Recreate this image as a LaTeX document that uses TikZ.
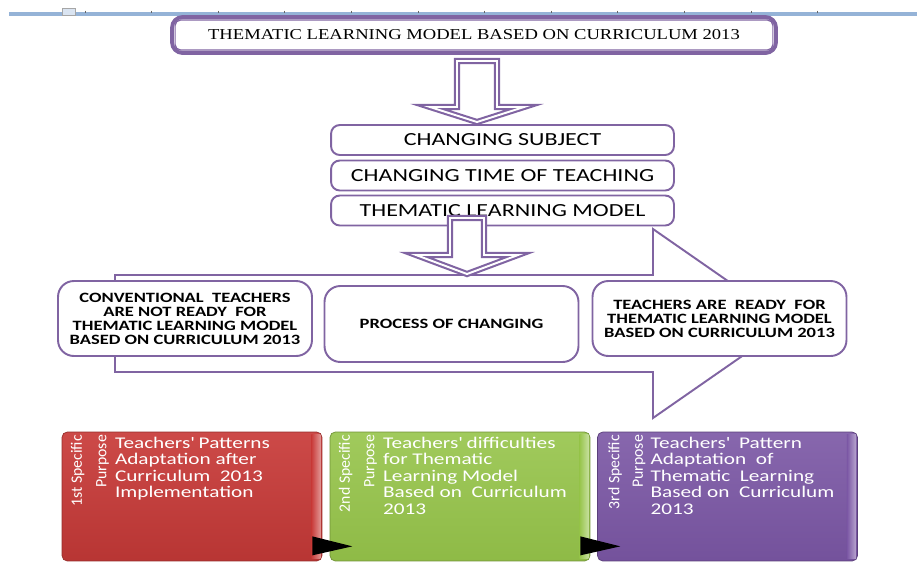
\documentclass[tikz,border=0pt]{standalone}
\usepackage{fontspec}
\setmainfont{Carlito}[FakeStretch=1.3]
\newfontfamily\sidefont{Carlito}
\newfontfamily\titlefont{Liberation Serif}[FakeStretch=1.23]
\usetikzlibrary{positioning,calc}
\definecolor{framepurple}{RGB}{128,100,162}
\definecolor{rulerblue}{RGB}{149,179,215}
\definecolor{specred}{RGB}{200,58,56}
\definecolor{specgreen}{RGB}{150,196,74}
\definecolor{specpurple}{RGB}{122,86,164}

\begin{document}
\begin{tikzpicture}[
    x=0.02cm, y=-0.02cm,
    titlebox/.style={rectangle, draw=framepurple, line width=2.2pt, rounded corners=6pt,
                 minimum width=12.08cm, minimum height=0.72cm, inner sep=0pt,
                 font=\titlefont\fontsize{8.6}{10}\selectfont},
    changebox/.style={rectangle, draw=framepurple, line width=1.1pt, fill=white, rounded corners=5pt,
                 minimum width=6.86cm, minimum height=0.6cm, inner sep=0pt,
                 font=\fontsize{10.5}{12}\selectfont},
    statebox/.style={rectangle, draw=framepurple, line width=1.1pt, fill=white, rounded corners=9pt,
                 minimum width=5.08cm, minimum height=1.5cm, inner sep=0pt, align=center,
                 font=\bfseries\fontsize{8.1}{8}\selectfont},
    purposebox/.style={rectangle, rounded corners=3pt, minimum width=5.2cm, minimum height=2.58cm, inner sep=0pt},
    purposetext/.style={anchor=north west, align=left, text=white, inner sep=0pt,
                 font=\fontsize{9.3}{9.4}\selectfont},
    sidetext/.style={anchor=east, rotate=90, text=white, inner sep=0pt,
                 font=\sidefont\fontsize{9}{10}\selectfont},
    blockarrow/.style={draw=framepurple, line width=1.2pt, double=white, double distance=1.1pt, fill=white},
    bigarrow/.style={draw=framepurple, line width=1.1pt, fill=white},
    pointer/.style={fill=black}
  ]
    \useasboundingbox (0,0) rectangle (917,562);

    % ruler strip at the top
    \fill[rulerblue] (9,12) rectangle (917,15.5);
    \foreach \k in {0,...,11}
      \draw[gray!80!black, line width=0.4pt] ({85+66.6*\k},10.5) -- ++(0,2.5);
    \draw[gray!70, fill=rulerblue!35] (62,8) rectangle (75,15.5);

    \node[titlebox] (title) at (474,35) {THEMATIC LEARNING MODEL BASED ON CURRICULUM 2013};
    \draw[framepurple, line width=0.7pt, rounded corners=3pt]
      ([shift={(5,5)}]title.north west) rectangle ([shift={(-5,-5)}]title.south east);

    \node[changebox] (subject) at (502.5,140)   {CHANGING SUBJECT};
    \node[changebox] (time) at (502.5,175.5)    {CHANGING TIME OF TEACHING};
    \node[changebox] (model) at (502.5,210.5)   {THEMATIC LEARNING MODEL};

    % title -> subject
    \coordinate (tail1) at (477,61);
    \coordinate (tip1) at (477,122);
    \draw[blockarrow] (tail1) ++(-20,0) -- ++(40,0) -- ++(0,46) -- ++(27,0) -- (tip1)
      -- ++(-47,-15) -- ++(27,0) -- cycle;

    % big arrow behind the three states
    \draw[bigarrow] (115,275) -- (653,275) -- (653,229) -- (789,323.5) -- (653,418) -- (653,372) -- (115,372) -- cycle;

    \node[statebox] (notready) at (185,318.5) {CONVENTIONAL\ \ TEACHERS\\ARE NOT READY\ \ FOR\\THEMATIC LEARNING MODEL\\BASED ON CURRICULUM 2013};
    \node[statebox, minimum height=1.52cm] (process) at (451.5,324) {PROCESS OF CHANGING};
    \node[statebox] (ready) at (719.5,318.5) {TEACHERS ARE\ \ READY\ \ FOR\\THEMATIC LEARNING MODEL\\BASED ON CURRICULUM 2013};

    % model -> process
    \coordinate (tail2) at (467,218);
    \coordinate (tip2) at (467,274);
    \draw[blockarrow] (tail2) ++(-17,0) -- ++(34,0) -- ++(0,37) -- ++(34,0) -- (tip2)
      -- ++(-51,-19) -- ++(34,0) -- cycle;

    % specific purposes
    \node[purposebox, top color=specred!92!white, bottom color=specred!92!black, draw=specred!75!black] (first) at (192,496.5) {};
    \node[purposebox, top color=specgreen!90!white, bottom color=specgreen!95!black, draw=specgreen!75!black] (second) at (460,496.5) {};
    \node[purposebox, top color=specpurple!90!white, bottom color=specpurple!95!black, draw=specpurple!75!black] (third) at (727.5,496.5) {};
    \foreach \purp/\col in {first/specred, second/specgreen, third/specpurple}
      \shade[left color=\col, right color=\col!55!white] ($(\purp.north east)+(-11,3)$) rectangle ($(\purp.south east)+(-2,-3)$);

    \node[sidetext] (firstspec) at ($(first.north west)+(16,3)$) {1st Specific};
    \node[sidetext] (firstpurp) at ($(first.north west)+(41,3)$) {Purpose};
    \node[purposetext] (firsttext) at ($(first.north west)+(53,5)$) {Teachers\textquotesingle{} Patterns\\Adaptation after\\Curriculum\ \ 2013\\Implementation};

    \node[sidetext] (secondspec) at ($(second.north west)+(16,3)$) {2nd Specific};
    \node[sidetext] (secondpurp) at ($(second.north west)+(41,3)$) {Purpose};
    \node[purposetext] (secondtext) at ($(second.north west)+(53,5)$) {Teachers\textquotesingle{} difficulties\\for Thematic\\Learning Model\\Based on\ \ Curriculum\\2013};

    \node[sidetext] (thirdspec) at ($(third.north west)+(18,3)$) {3rd Specific};
    \node[sidetext] (thirdpurp) at ($(third.north west)+(42,3)$) {Purpose};
    \node[purposetext] (thirdtext) at ($(third.north west)+(53,5)$) {Teachers\textquotesingle{}\ \ Pattern\\Adaptation\ \ of\\Thematic\ \ Learning\\Based on\ \ Curriculum\\2013};

    % pointers between the purposes
    \fill[pointer] ($(first.south east)+(-10,-25)$) -- ++(40,10) -- ++(-40,9) -- cycle;
    \fill[pointer] ($(second.south east)+(-10,-25)$) -- ++(40,10) -- ++(-40,9) -- cycle;
  \end{tikzpicture}
\end{document}
